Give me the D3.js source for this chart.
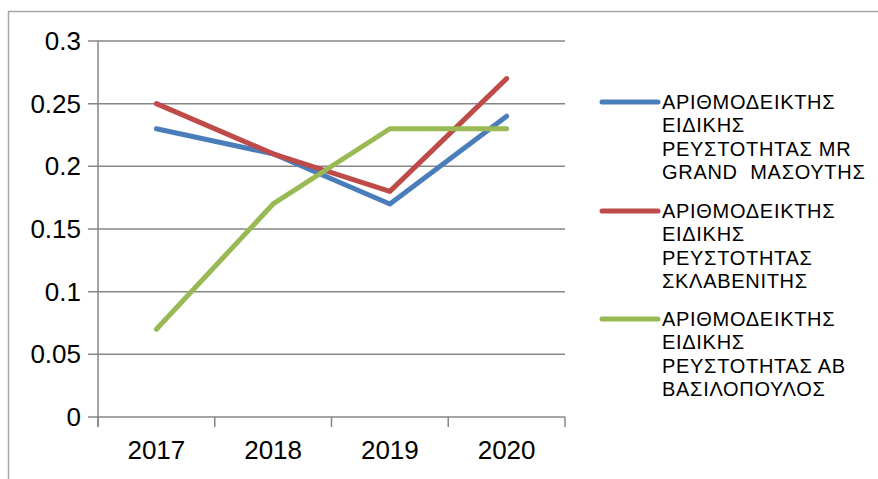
<!DOCTYPE html>
<html><head><meta charset="utf-8">
<script src="https://cdn.jsdelivr.net/npm/d3@7"></script>
<style>body{margin:0;background:#fff}svg{display:block}text{font-family:Arial,"Liberation Sans",sans-serif;fill:#000}</style>
</head><body>
<svg id="c" width="878" height="479"></svg>
<script>
const categories = ["2017", "2018", "2019", "2020"];
const yTicks = [0, 0.05, 0.1, 0.15, 0.2, 0.25, 0.3];
const seriesNames = [
  ["ΑΡΙΘΜΟΔΕΙΚΤΗΣ", "ΕΙΔΙΚΗΣ", "ΡΕΥΣΤΟΤΗΤΑΣ MR", "GRAND  ΜΑΣΟΥΤΗΣ"],
  ["ΑΡΙΘΜΟΔΕΙΚΤΗΣ", "ΕΙΔΙΚΗΣ", "ΡΕΥΣΤΟΤΗΤΑΣ", "ΣΚΛΑΒΕΝΙΤΗΣ"],
  ["ΑΡΙΘΜΟΔΕΙΚΤΗΣ", "ΕΙΔΙΚΗΣ", "ΡΕΥΣΤΟΤΗΤΑΣ ΑΒ", "ΒΑΣΙΛΟΠΟΥΛΟΣ"]
];
const masoutis = [0.23, 0.21, 0.17, 0.24];
const sklavenitis = [0.25, 0.21, 0.18, 0.27];
const vasilopoulos = [0.07, 0.17, 0.23, 0.23];
const colors = ["#4a7ebb", "#be4b48", "#98b954"];

const series = [masoutis, sklavenitis, vasilopoulos];
const svg = d3.select("#c");

// outer frame
svg.append("path").attr("d", "M8.5,479 V11.5 H878").attr("fill", "none").attr("stroke", "#a6a6a6").attr("stroke-width", 1.5);

const x = d3.scaleBand().domain(categories).range([98, 565]);
const y = d3.scaleLinear().domain([0, 0.3]).range([417, 41]);
const grid = "#868686";

// gridlines + y ticks
svg.append("g").selectAll("line").data(yTicks).join("line")
  .attr("x1", 88).attr("x2", 565)
  .attr("y1", d => y(d)).attr("y2", d => y(d))
  .attr("stroke", grid).attr("stroke-width", 1.5);
svg.append("g").selectAll("text").data(yTicks).join("text")
  .attr("x", 81).attr("y", d => y(d) + 9)
  .attr("text-anchor", "end").attr("font-size", 26)
  .text(d => d3.format("")(d));

// y axis line
svg.append("line").attr("x1", 98).attr("x2", 98).attr("y1", 41).attr("y2", 427)
  .attr("stroke", grid).attr("stroke-width", 1.5);
// x tick marks (band edges)
const edges = categories.map(c => x(c)).concat([x.range()[1]]);
svg.append("g").selectAll("line").data(edges).join("line")
  .attr("x1", d => d).attr("x2", d => d).attr("y1", 417).attr("y2", 427)
  .attr("stroke", grid).attr("stroke-width", 1.5);
svg.append("g").selectAll("text").data(categories).join("text")
  .attr("x", d => x(d) + x.bandwidth() / 2).attr("y", 459)
  .attr("text-anchor", "middle").attr("font-size", 26)
  .text(d => d);

// lines
const line = d3.line().x((d, i) => x(categories[i]) + x.bandwidth() / 2).y(d => y(d));
series.forEach((s, k) => {
  svg.append("path").datum(s).attr("d", line).attr("fill", "none")
    .attr("stroke", colors[k]).attr("stroke-width", 5)
    .attr("stroke-linecap", "round").attr("stroke-linejoin", "round");
});

// legend
const legY = [102, 211, 319];
seriesNames.forEach((lines, k) => {
  const g = svg.append("g");
  g.append("line").attr("x1", 602).attr("x2", 658).attr("y1", legY[k]).attr("y2", legY[k])
    .attr("stroke", colors[k]).attr("stroke-width", 5).attr("stroke-linecap", "round");
  lines.forEach((t, i) => {
    g.append("text").attr("x", 662).attr("y", legY[k] + 7 + i * 23.3)
      .attr("font-size", 20).attr("letter-spacing", 0.7)
      .attr("xml:space", "preserve").style("white-space", "pre").text(t);
  });
});
</script>
</body></html>
